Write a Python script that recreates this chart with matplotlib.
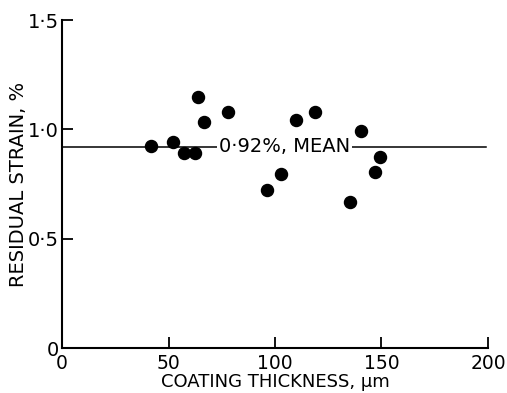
import matplotlib.pyplot as plt
from matplotlib.ticker import FixedLocator

thickness = [41.8, 52.1, 57.3, 62.4, 63.8, 66.7, 77.9, 96.2, 102.8, 109.9, 118.8, 135.0, 140.4, 147.0, 149.3]
strain = [0.924, 0.942, 0.894, 0.890, 1.146, 1.033, 1.079, 0.722, 0.797, 1.044, 1.079, 0.666, 0.993, 0.805, 0.873]
mean_strain = 0.92
xticks = [0, 50, 100, 150, 200]
yticks = [0, 0.5, 1.0, 1.5]
ylabels = ['0', '0·5', '1·0', '1·5']

plt.rcParams['font.family'] = 'DejaVu Sans'
fig = plt.figure(figsize=(5.07, 3.93), dpi=100)
ax = fig.add_axes([0.1223, 0.1145, 0.8402, 0.8346])

ax.plot([0, 199], [mean_strain, mean_strain], color='black', lw=1.1, zorder=1)
ax.scatter(thickness, strain, s=75, color='black', zorder=3)
ax.text(104.5, mean_strain, '0·92%, MEAN', ha='center', va='center', fontsize=14,
        bbox=dict(facecolor='white', edgecolor='none', pad=1.5), zorder=2)

ax.set_xlim(0, 200)
ax.set_ylim(0, 1.5)
ax.xaxis.set_major_locator(FixedLocator(xticks))
ax.yaxis.set_major_locator(FixedLocator(yticks))
ax.set_yticklabels(ylabels)
ax.tick_params(direction='in', length=8, width=1.3, labelsize=14, pad=2)
ax.tick_params(axis='x', labelsize=13.5, pad=4)
for side in ['top', 'right']:
    ax.spines[side].set_visible(False)
for side in ['left', 'bottom']:
    ax.spines[side].set_linewidth(1.5)

ax.set_xlabel('COATING THICKNESS, µm', fontsize=13, labelpad=0)
ax.set_ylabel('RESIDUAL STRAIN, %', fontsize=14, labelpad=0)

fig.savefig('out.png', dpi=100)
